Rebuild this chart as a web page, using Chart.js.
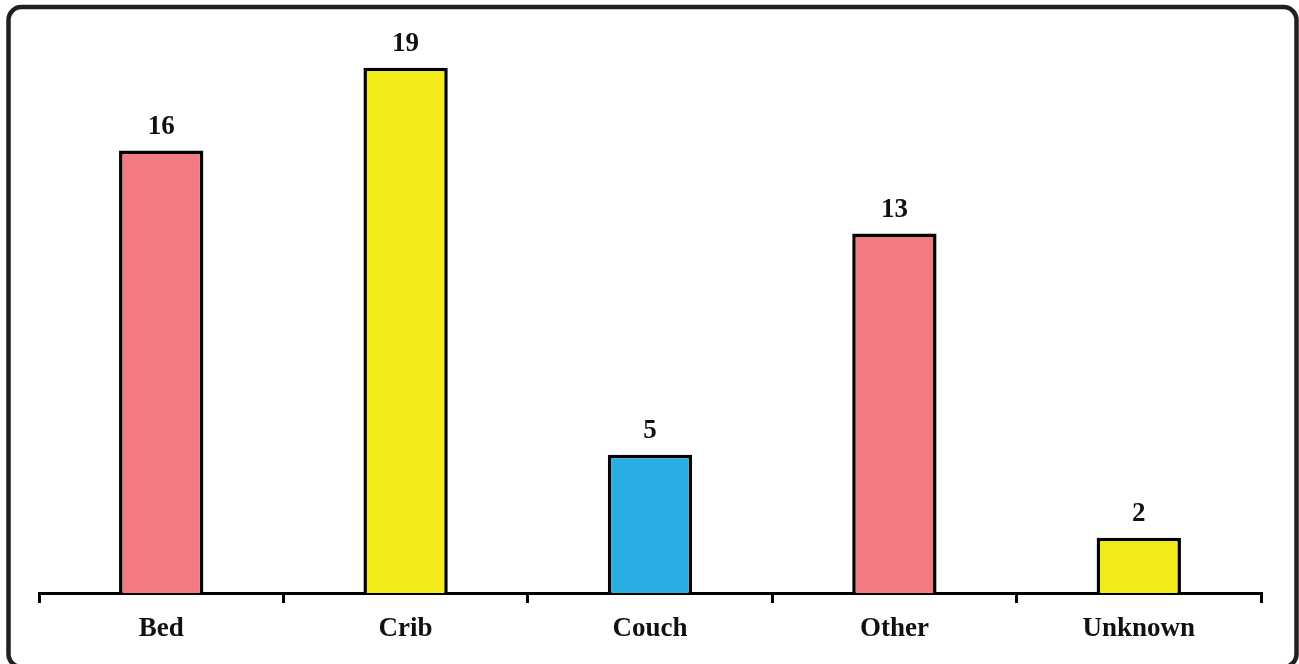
<!DOCTYPE html>
<html>
<head>
<meta charset="utf-8">
<script src="https://cdn.jsdelivr.net/npm/chart.js@4/dist/chart.umd.min.js"></script>
<style>
  html, body { margin: 0; padding: 0; background: #ffffff; }
  #wrap { position: relative; width: 1299px; height: 664px; }
</style>
</head>
<body>
<div id="wrap"><canvas id="c" width="1299" height="664"></canvas></div>
<script>
const categories = ["Bed", "Crib", "Couch", "Other", "Unknown"];
const counts = [16, 19, 5, 13, 2];
const barColors = ["#f27b81", "#f2ea19", "#29aee3", "#f27b81", "#f2ea19"];

const FONT = "'Liberation Serif', 'Times New Roman', serif";

const frame = {
  id: 'frame',
  beforeDraw(chart) {
    const ctx = chart.ctx;
    ctx.save();
    ctx.fillStyle = '#ffffff';
    ctx.fillRect(0, 0, chart.width, chart.height);
    ctx.strokeStyle = '#231f20';
    ctx.lineWidth = 4.5;
    const x = 8.5, y = 7, w = chart.width - 11, h = chart.height - 4, r = 13;
    ctx.beginPath();
    ctx.moveTo(x + r, y);
    ctx.lineTo(x + w - r, y);
    ctx.arcTo(x + w, y, x + w, y + r, r);
    ctx.lineTo(x + w, y + h - r);
    ctx.arcTo(x + w, y + h, x + w - r, y + h, r);
    ctx.lineTo(x + r, y + h);
    ctx.arcTo(x, y + h, x, y + h - r, r);
    ctx.lineTo(x, y + r);
    ctx.arcTo(x, y, x + r, y, r);
    ctx.closePath();
    ctx.stroke();
    ctx.restore();
  }
};

const valueLabels = {
  id: 'valueLabels',
  afterDatasetsDraw(chart) {
    const ctx = chart.ctx;
    const meta = chart.getDatasetMeta(0);
    ctx.save();
    ctx.font = "bold 27px " + FONT;
    ctx.fillStyle = '#111111';
    ctx.textAlign = 'center';
    ctx.textBaseline = 'alphabetic';
    meta.data.forEach((bar, i) => {
      ctx.fillText(String(counts[i]), bar.x, bar.y - 17);
    });
    ctx.restore();
  }
};

new Chart(document.getElementById('c'), {
  type: 'bar',
  data: {
    labels: categories,
    datasets: [{
      data: counts,
      backgroundColor: barColors,
      borderColor: '#000000',
      borderWidth: 3.5,
      borderSkipped: 'bottom',
      categoryPercentage: 1,
      barPercentage: 0.345
    }]
  },
  options: {
    responsive: false,
    animation: false,
    devicePixelRatio: 1,
    layout: { padding: { left: 39, right: 38, top: 40, bottom: 0 } },
    plugins: { legend: { display: false }, tooltip: { enabled: false } },
    scales: {
      x: {
        offset: true,
        afterFit(scale) { scale.height = 71; },
        grid: {
          offset: true,
          drawOnChartArea: false,
          drawTicks: true,
          tickLength: 10,
          tickWidth: 3,
          tickColor: '#000000',
          lineWidth: 3,
          color: '#000000'
        },
        border: { display: true, color: '#000000', width: 3 },
        ticks: {
          color: '#111111',
          padding: 10,
          font: { family: FONT, size: 27, weight: 'bold' }
        }
      },
      y: {
        display: false,
        min: 0,
        max: 20
      }
    }
  },
  plugins: [frame, valueLabels]
});
</script>
</body>
</html>
